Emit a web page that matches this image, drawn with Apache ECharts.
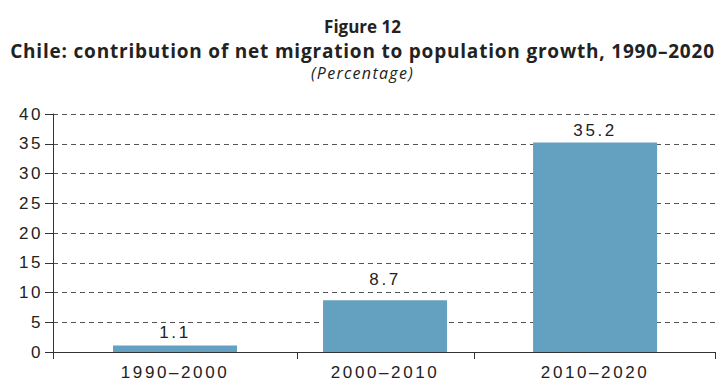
<!DOCTYPE html>
<html><head><meta charset="utf-8">
<script src="https://cdn.jsdelivr.net/npm/echarts@6/dist/echarts.min.js"></script>
<style>
html,body{margin:0;padding:0;background:#fff}
#c{width:725px;height:381px}
#c text{letter-spacing:2.6px}
#c text[style*="Open Sans"],#c text[font-family*="Open Sans"]{letter-spacing:0}
#c text[style*="Open Sans"][style*="19px"],#c text[font-family*="Open Sans"][font-size*="19"]{letter-spacing:0.8px}
#c text[style*="Open Sans"][style*="16px"],#c text[font-family*="Open Sans"][font-size*="16"]{letter-spacing:1.3px}
</style></head>
<body><div id="c"></div>
<script>
const titleText = 'Figure 12';
const subtitleText = 'Chile: contribution of net migration to population growth, 1990–2020';
const unitText = '(Percentage)';
const categories = ['1990–2000', '2000–2010', '2010–2020'];
const values = [1.1, 8.7, 35.2];
const yMin = 0, yMax = 40, yStep = 5;

const chart = echarts.init(document.getElementById('c'), null, {renderer: 'svg'});
const txt = '#222';
const tf = 'Open Sans';
chart.setOption({
  animation: false,
  backgroundColor: '#fff',
  title: [
    {text: titleText, left: 'center', top: 13, textStyle: {fontFamily: tf, fontWeight: 'bold', fontSize: 17, color: txt}},
    {text: subtitleText, left: 'center', top: 36, padding: [5, 0, 5, 10], textStyle: {fontFamily: tf, fontWeight: 'bold', fontSize: 19, color: txt}},
    {text: unitText, left: 'center', top: 60, padding: [5, 0, 5, 8], textStyle: {fontFamily: tf, fontStyle: 'italic', fontWeight: 'normal', fontSize: 16, color: txt}}
  ],
  grid: {left: 53, right: 10, top: 114, bottom: 28},
  xAxis: {
    type: 'value', min: -0.581, max: 2.571,
    axisLine: {show: true, onZero: false, lineStyle: {color: '#333', width: 1}},
    axisTick: {show: true, length: 7, customValues: [-0.581, 0.581, 1.424, 2.571], lineStyle: {color: '#333'}},
    axisLabel: {show: true, customValues: [0, 1, 2], formatter: v => categories[Math.round(v)] || '', fontFamily: 'Liberation Sans', fontSize: 17, color: txt, margin: 12},
    splitLine: {show: false}
  },
  yAxis: {
    type: 'value', min: yMin, max: yMax, interval: yStep,
    axisLine: {show: true, onZero: false, lineStyle: {color: '#333', width: 1}},
    axisTick: {show: true, length: 8, lineStyle: {color: '#333'}},
    axisLabel: {fontFamily: 'Liberation Sans', fontSize: 17, color: txt, margin: 10},
    splitLine: {show: true, lineStyle: {color: '#555', type: [5, 4], width: 1}}
  },
  series: [{
    type: 'bar',
    data: values.map((v, i) => ({value: [i, v], label: {distance: i === 1 ? 12 : 4}})),
    barWidth: 124,
    itemStyle: {color: '#64a0bf'},
    label: {show: true, position: 'top', distance: 4, fontFamily: 'Liberation Sans', fontSize: 17, color: txt,
      formatter: p => p.value[1].toFixed(1)}
  }]
});
</script></body></html>
